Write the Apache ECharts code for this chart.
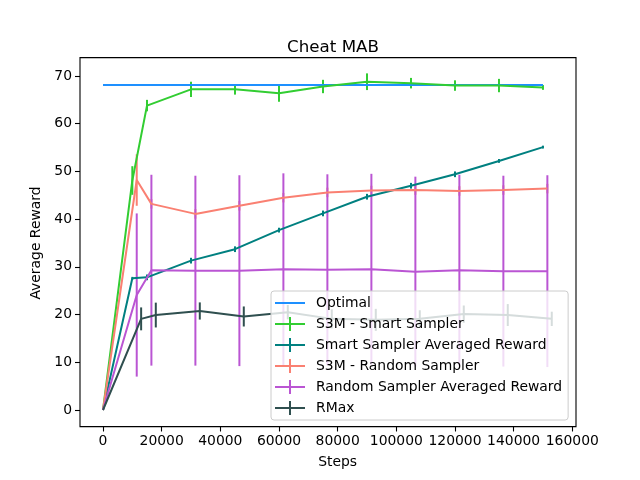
<!DOCTYPE html>
<html>
<head>
<meta charset="utf-8">
<script src="https://cdn.jsdelivr.net/npm/echarts@6/dist/echarts.min.js"></script>
<style>
html, body { margin: 0; padding: 0; background: #fff; }
#chart { width: 640px; height: 480px; }
</style>
</head>
<body>
<div id="chart"></div>
<script>
// steps for each group of runs (they are shifted a little in the plot)
var stepsA = [0, 10000, 15000, 30000, 45000, 60000, 75000, 90000, 105000, 120000, 135000, 150000];
var stepsB = [0, 11500, 16500, 31500, 46500, 61500, 76500, 91500, 106500, 121500, 136500, 151500];
var stepsC = [0, 13000, 18000, 33000, 48000, 63000, 78000, 93000, 108000, 123000, 138000, 153000];

var optimal = [68.1, 68.1, 68.1, 68.1, 68.1, 68.1, 68.1, 68.1, 68.1, 68.1, 68.1, 68.1];

var smartS3M = [0, 48.1, 63.8, 67.2, 67.2, 66.4, 67.8, 68.8, 68.5, 68.0, 68.0, 67.6];
var smartS3MErr = [0, 3.0, 1.2, 1.6, 1.1, 1.8, 1.4, 1.75, 1.1, 1.1, 1.4, 0.5];

var smartAvg = [0, 27.6, 27.8, 31.3, 33.7, 37.7, 41.2, 44.7, 47.0, 49.4, 52.2, 55.1];
var smartAvgErr = [0, 0.3, 0.6, 0.6, 0.6, 0.5, 0.6, 0.6, 0.6, 0.6, 0.4, 0.3];

var randomS3M = [0, 48.2, 43.2, 41.1, 42.8, 44.5, 45.6, 46.0, 46.1, 45.9, 46.1, 46.4];
var randomS3MErr = [0, 5.4, 1.0, 1.0, 1.0, 1.0, 1.0, 1.0, 1.0, 1.0, 1.0, 1.0];

var randomAvg = [0, 24.1, 29.3, 29.2, 29.2, 29.5, 29.4, 29.5, 29.0, 29.3, 29.1, 29.1];
var randomAvgErr = [0, 17.1, 20.0, 19.9, 20.0, 20.1, 20.0, 20.0, 19.9, 20.0, 20.0, 20.1];

var rmax = [0, 19.1, 19.9, 20.75, 19.6, 20.5, 19.1, 18.9, 19.1, 20.1, 19.9, 19.1];
var rmaxErr = [0, 2.4, 2.6, 1.8, 2.1, 1.5, 2.0, 2.3, 1.8, 1.8, 2.3, 1.5];

var xTicks = { min: 0, max: 160000, step: 20000 };
var yTicks = { min: 0, max: 70, step: 10 };

var FONT = 'DejaVu Sans';
var ICON_LINE = 'path://M0,6L30,6L30,8L0,8Z';
var ICON_ERR = 'path://M0,6L30,6L30,8L0,8Z M14,0L16,0L16,14L14,14Z';

function pairs(xs, ys) {
    return xs.map(function (x, i) { return [x, ys[i]]; });
}
function errs(xs, ys, es) {
    return xs.map(function (x, i) { return [x, ys[i] - es[i], ys[i] + es[i]]; });
}
function errRender(params, api) {
    var p1 = api.coord([api.value(0), api.value(1)]);
    var p2 = api.coord([api.value(0), api.value(2)]);
    return {
        type: 'line',
        shape: { x1: p1[0], y1: p1[1], x2: p2[0], y2: p2[1] },
        style: { stroke: api.visual('color'), lineWidth: 2 }
    };
}
function lineSeries(name, color, xs, ys) {
    return {
        name: name,
        type: 'line',
        data: pairs(xs, ys),
        symbol: 'none',
        color: color,
        lineStyle: { width: 2, color: color },
        animation: false
    };
}
function errSeries(name, color, xs, ys, es) {
    return {
        name: name,
        type: 'custom',
        data: errs(xs, ys, es),
        renderItem: errRender,
        color: color,
        itemStyle: { color: color },
        encode: { x: 0, y: [1, 2] },
        clip: false,
        animation: false
    };
}

var chart = echarts.init(document.getElementById('chart'));
chart.setOption({
    animation: false,
    title: {
        text: 'Cheat MAB',
        left: 328,
        top: 34,
        textAlign: 'center',
        textStyle: { fontFamily: FONT, fontSize: 16.7, fontWeight: 'normal', color: '#000' }
    },
    graphic: [{
        type: 'rect',
        shape: { x: 80, y: 57.6, width: 496, height: 369 },
        style: { fill: 'none', stroke: '#000', lineWidth: 1.1 },
        z: 10,
        silent: true
    }],
    grid: { left: 103, right: 67.7, top: 76, bottom: 70 },
    xAxis: {
        type: 'value',
        min: xTicks.min,
        max: xTicks.max,
        interval: xTicks.step,
        offset: 16.5,
        name: 'Steps',
        nameLocation: 'middle',
        nameGap: 29,
        nameTextStyle: { fontFamily: FONT, fontSize: 13.9, color: '#000' },
        axisLine: { show: false, onZero: false },
        axisTick: { show: true, length: 5, lineStyle: { color: '#000', width: 1.1 } },
        axisLabel: {
            fontFamily: FONT, fontSize: 13.9, color: '#000', margin: 8,
            formatter: function (v) { return String(v); }
        },
        splitLine: { show: false }
    },
    yAxis: {
        type: 'value',
        min: yTicks.min,
        max: yTicks.max,
        interval: yTicks.step,
        offset: 23,
        name: 'Average Reward',
        nameLocation: 'middle',
        nameGap: 34,
        nameTextStyle: { fontFamily: FONT, fontSize: 13.9, color: '#000' },
        axisLine: { show: false, onZero: false },
        axisTick: { show: true, length: 5, lineStyle: { color: '#000', width: 1.1 } },
        axisLabel: { fontFamily: FONT, fontSize: 13.9, color: '#000', margin: 8 },
        splitLine: { show: false }
    },
    legend: {
        orient: 'vertical',
        left: 271,
        top: 291,
        padding: [5, 6, 5, 4],
        itemWidth: 30,
        itemHeight: 14,
        itemGap: 7,
        backgroundColor: 'rgba(255,255,255,0.8)',
        borderColor: '#cccccc',
        borderWidth: 1,
        borderRadius: 3,
        z: 20,
        textStyle: { fontFamily: FONT, fontSize: 13.9, color: '#000', padding: [0, 0, 0, 6] },
        data: [
            { name: 'Optimal', icon: ICON_LINE },
            { name: 'S3M - Smart Sampler', icon: ICON_ERR },
            { name: 'Smart Sampler Averaged Reward', icon: ICON_ERR },
            { name: 'S3M - Random Sampler', icon: ICON_ERR },
            { name: 'Random Sampler Averaged Reward', icon: ICON_ERR },
            { name: 'RMax', icon: ICON_ERR }
        ]
    },
    series: [
        lineSeries('Optimal', '#1e90ff', stepsA, optimal),
        lineSeries('S3M - Smart Sampler', '#32cd32', stepsA, smartS3M),
        errSeries('S3M - Smart Sampler', '#32cd32', stepsA, smartS3M, smartS3MErr),
        lineSeries('Smart Sampler Averaged Reward', '#008080', stepsA, smartAvg),
        errSeries('Smart Sampler Averaged Reward', '#008080', stepsA, smartAvg, smartAvgErr),
        lineSeries('S3M - Random Sampler', '#fa8072', stepsB, randomS3M),
        errSeries('S3M - Random Sampler', '#fa8072', stepsB, randomS3M, randomS3MErr),
        lineSeries('Random Sampler Averaged Reward', '#ba55d3', stepsB, randomAvg),
        errSeries('Random Sampler Averaged Reward', '#ba55d3', stepsB, randomAvg, randomAvgErr),
        lineSeries('RMax', '#2f4f4f', stepsC, rmax),
        errSeries('RMax', '#2f4f4f', stepsC, rmax, rmaxErr)
    ]
});
</script>
</body>
</html>
